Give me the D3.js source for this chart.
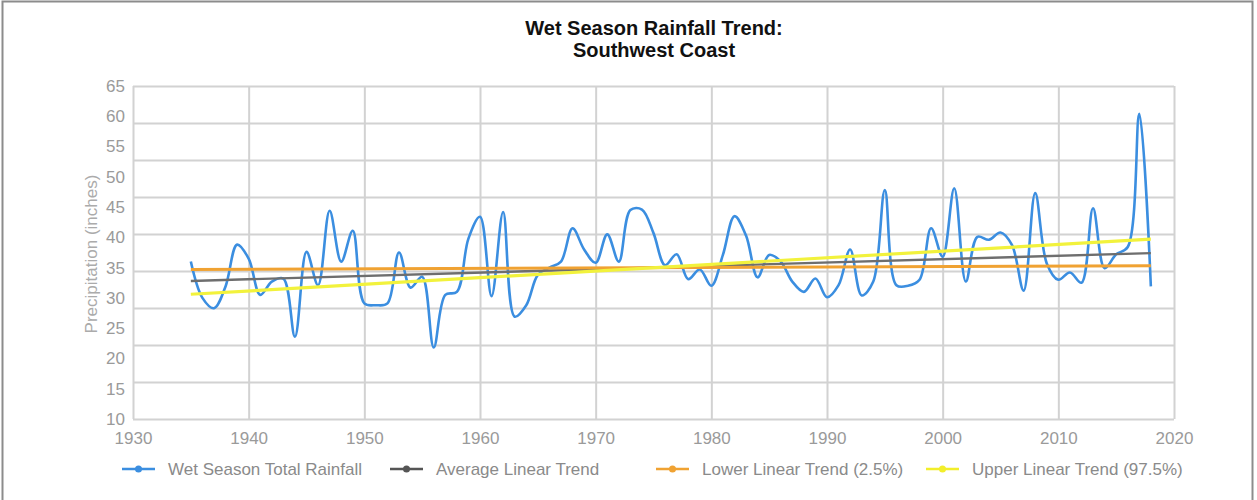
<!DOCTYPE html>
<html>
<head>
<meta charset="utf-8">
<script src="https://cdn.jsdelivr.net/npm/d3@7"></script>
<style>
  body { margin: 0; background: #fff; }
  #chart text { font-family: "Liberation Sans", Arial, sans-serif; }
</style>
</head>
<body>
<div id="chart"></div>
<script>
// data
const years = [
  1935,1936,1937,1938,1939,1940,1941,1942,1943,1944,1945,1946,1947,1948,1949,
  1950,1951,1952,1953,1954,1955,1956,1957,1958,1959,1960,1961,1962,1963,1964,
  1965,1966,1967,1968,1969,1970,1971,1972,1973,1974,1975,1976,1977,1978,1979,
  1980,1981,1982,1983,1984,1985,1986,1987,1988,1989,1990,1991,1992,1993,1994,
  1995,1996,1997,1998,1999,2000,2001,2002,2003,2004,2005,2006,2007,2008,2009,
  2010,2011,2012,2013,2014,2015,2016,2017,2018
];
const rainfall = [
  36.0,30.0,28.3,31.9,38.8,36.5,30.5,32.7,33.2,23.6,37.6,32.1,44.4,36.0,41.1,
  29.1,28.8,29.1,37.5,31.7,33.5,21.8,30.5,31.0,39.8,43.4,30.3,44.2,26.9,28.8,
  33.8,35.0,36.0,41.5,38.0,35.8,40.5,36.0,44.5,44.6,40.7,35.4,37.2,33.1,34.7,
  32.0,37.1,43.5,40.3,33.4,37.1,36.0,32.7,31.0,33.2,30.1,32.1,38.0,30.4,32.7,
  47.8,32.1,32.0,33.0,41.5,36.8,48.1,32.7,40.1,39.6,40.8,38.7,31.2,47.3,35.7,
  33.0,34.2,32.5,44.8,34.9,37.2,38.4,60.4,31.9
];

// garis tren (tahun awal & akhir)
const trendYears = [1935, 2018];
const avgTrend   = [32.8, 37.4];
const lowerTrend = [34.7, 35.3];
const upperTrend = [30.6, 39.7];

const xTicks = [1930,1940,1950,1960,1970,1980,1990,2000,2010,2020];
const yTicks = [10,15,20,25,30,35,40,45,50,55,60,65];

const titleLines = ["Wet Season Rainfall Trend:", "Southwest Coast"];
const seriesNames = [
  "Wet Season Total Rainfall",
  "Average Linear Trend",
  "Lower Linear Trend (2.5%)",
  "Upper Linear Trend (97.5%)"
];
const COLORS = ["#3b8ee0", "#6e6e6e", "#f0a232", "#f2f23c"];

// ukuran
const W = 1257, H = 500;
const plot = { left: 133, right: 1174, top: 86, bottom: 419 };

const svg = d3.select("#chart")
  .append("svg")
  .attr("width", W)
  .attr("height", H);

// bingkai luar
svg.append("rect")
  .attr("x", 2.5).attr("y", 1.5)
  .attr("width", 1250).attr("height", 560)
  .attr("fill", "none")
  .attr("stroke", "#8c8c8c")
  .attr("stroke-width", 2);

// judul
svg.selectAll(".title")
  .data(titleLines)
  .enter()
  .append("text")
  .attr("class", "title")
  .attr("x", 654)
  .attr("y", (d, i) => 35 + i * 22)
  .attr("text-anchor", "middle")
  .attr("font-size", "20px")
  .attr("font-weight", "bold")
  .attr("fill", "#111")
  .text(d => d);

// skala
const xScale = d3.scaleLinear()
  .domain([1930, 2020])
  .range([plot.left, plot.right]);

const yScale = d3.scaleLinear()
  .domain([10, 65])
  .range([plot.bottom, plot.top]);

// grid horizontal (10 garis, tidak sejajar dengan label)
const gridScale = d3.scaleLinear()
  .domain([0, 9])
  .range([plot.bottom, plot.top]);

svg.append("g")
  .attr("class", "grid")
  .attr("transform", `translate(${plot.left},0)`)
  .call(d3.axisLeft(gridScale)
    .tickValues(d3.range(0, 10))
    .tickSize(-(plot.right - plot.left))
    .tickFormat(""))
  .call(g => g.select(".domain").remove())
  .selectAll("line")
    .attr("stroke", "#d2d2d2")
    .attr("stroke-width", 2);

// grid vertikal
svg.append("g")
  .attr("class", "grid")
  .attr("transform", `translate(0,${plot.bottom})`)
  .call(d3.axisBottom(xScale)
    .tickValues(xTicks)
    .tickSize(-(plot.bottom - plot.top))
    .tickFormat(""))
  .call(g => g.select(".domain").remove())
  .selectAll("line")
    .attr("stroke", "#d2d2d2")
    .attr("stroke-width", 2);

// label sumbu x
svg.append("g")
  .attr("transform", `translate(0,${plot.bottom})`)
  .call(d3.axisBottom(xScale)
    .tickValues(xTicks)
    .tickSize(0)
    .tickPadding(13)
    .tickFormat(d3.format("d")))
  .call(g => g.select(".domain").remove())
  .selectAll("text")
    .attr("font-size", "17px")
    .attr("fill", "#9a9a9a");

// label sumbu y
svg.append("g")
  .attr("transform", `translate(${plot.left},0)`)
  .call(d3.axisLeft(yScale)
    .tickValues(yTicks)
    .tickSize(0)
    .tickPadding(8))
  .call(g => g.select(".domain").remove())
  .selectAll("text")
    .attr("font-size", "17px")
    .attr("fill", "#9a9a9a");

// judul sumbu y
svg.append("text")
  .attr("transform", "rotate(-90)")
  .attr("x", -254)
  .attr("y", 97)
  .attr("text-anchor", "middle")
  .attr("font-size", "17px")
  .attr("fill", "#ababab")
  .text("Precipitation (inches)");

// garis data
const rainLine = d3.line()
  .x((d, i) => xScale(years[i]))
  .y(d => yScale(d))
  .curve(d3.curveCatmullRom);

const trendLine = d3.line()
  .x((d, i) => xScale(trendYears[i]))
  .y(d => yScale(d));

svg.append("path")
  .datum(rainfall)
  .attr("d", rainLine)
  .attr("fill", "none")
  .attr("stroke", COLORS[0])
  .attr("stroke-width", 2.6);

const trends = [
  { values: avgTrend,   color: COLORS[1], width: 2.4 },
  { values: lowerTrend, color: COLORS[2], width: 3 },
  { values: upperTrend, color: COLORS[3], width: 3.2 }
];

trends.forEach(t => {
  svg.append("path")
    .datum(t.values)
    .attr("d", trendLine)
    .attr("fill", "none")
    .attr("stroke", t.color)
    .attr("stroke-width", t.width);
});

// legenda
const legendX = [122, 390, 656, 926];
const legendColors = ["#3b8ee0", "#555", "#f0a232", "#f2ee2a"];
const legend = svg.selectAll(".legend")
  .data(seriesNames)
  .enter()
  .append("g")
  .attr("class", "legend")
  .attr("transform", (d, i) => `translate(${legendX[i]},469)`);

legend.append("line")
  .attr("x1", 0).attr("x2", 33)
  .attr("stroke", (d, i) => legendColors[i])
  .attr("stroke-width", 2.5);

legend.append("circle")
  .attr("cx", 16.5)
  .attr("r", 3.5)
  .attr("fill", (d, i) => legendColors[i]);

legend.append("text")
  .attr("x", 46)
  .attr("y", 6)
  .attr("font-size", "17px")
  .attr("fill", "#8a8a8a")
  .text(d => d);
</script>
</body>
</html>
